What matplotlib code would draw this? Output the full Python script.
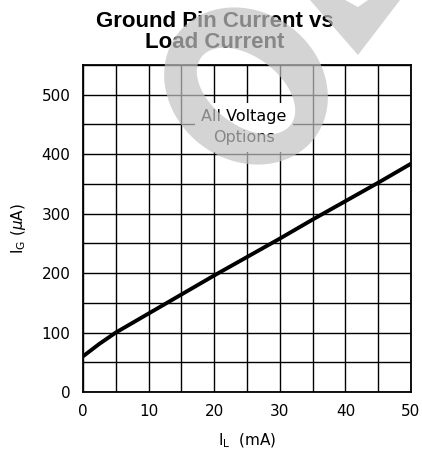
import numpy as np
import matplotlib
matplotlib.use("Agg")
import matplotlib.pyplot as plt
from matplotlib.path import Path
from matplotlib.patches import PathPatch
from matplotlib.transforms import IdentityTransform

# Data
load_ma = [0, 2.5, 5, 10, 15, 20, 25, 30, 35, 40, 45, 50]
ground_ua = [60, 81, 100, 132, 164, 196, 227, 258, 290, 321, 352, 384]

x_ticks = [0, 10, 20, 30, 40, 50]
y_ticks = [0, 100, 200, 300, 400, 500]

W, H = 422, 466
fig = plt.figure(figsize=(W / 100, H / 100), dpi=100)
ax = fig.add_axes([83 / W, 1 - 392 / H, 328 / W, 327 / H])

ax.plot(load_ma, ground_ua, color='black', lw=2.8, solid_capstyle='butt', zorder=3)

ax.set_xlim(0, 50)
ax.set_ylim(0, 550)
ax.set_xticks(np.arange(0, 51, 5))
ax.set_yticks(np.arange(0, 551, 50))
ax.set_xticklabels([str(v) if v in x_ticks else '' for v in range(0, 51, 5)])
ax.set_yticklabels([str(v) if v in y_ticks else '' for v in range(0, 551, 50)])
ax.tick_params(length=0, labelsize=11, pad=9)
ax.grid(True, color='black', lw=1.0)
for s in ax.spines.values():
    s.set_linewidth(1.3)

ax.set_xlabel(r'I$_\mathregular{L}$  (mA)', fontsize=11, labelpad=9)
ax.set_ylabel(r'I$_\mathregular{G}$ ($\mu$A)', fontsize=11, labelpad=10)

ax.text(24.5, 445, 'All Voltage\nOptions', ha='center', va='center', fontsize=11.5,
        linespacing=1.5, zorder=4,
        bbox=dict(boxstyle='square,pad=0.4', fc='white', ec='none'))

fig.text(215 / W, 1 - 32 / H, 'Ground Pin Current vs\nLoad Current', ha='center',
         va='center', fontsize=16, fontweight='bold', family='Liberation Sans',
         linespacing=0.95)

# grey watermark stamp drawn over the chart (pixel coordinates, y from top)
def ellipse(cx, cy, a, b, ang, reverse=False):
    t = np.linspace(0, 2 * np.pi, 200)
    if reverse:
        t = t[::-1]
    c, s = np.cos(np.radians(ang)), np.sin(np.radians(ang))
    x = cx + a * np.cos(t) * c - b * np.sin(t) * s
    y = (H - cy) + a * np.cos(t) * s + b * np.sin(t) * c
    return np.column_stack([x, y])

outer = ellipse(246, 86, 86, 74, -37)
inner = ellipse(246, 91, 56, 34, -37, reverse=True)
verts = np.vstack([outer, inner])
codes = ([Path.MOVETO] + [Path.LINETO] * (len(outer) - 1)
         + [Path.MOVETO] + [Path.LINETO] * (len(inner) - 1))
ring = PathPatch(Path(verts, codes), fc='0.76', ec='none', alpha=0.7,
                 transform=IdentityTransform(), zorder=10)
fig.add_artist(ring)

band_px = [(310, 0), (345, 0), (358, 7), (368, 0), (400, 0), (358, 55)]
band = plt.Polygon([(x, H - y) for x, y in band_px], closed=True, fc='0.76',
                   ec='none', alpha=0.7, transform=IdentityTransform(), zorder=10)
fig.add_artist(band)

fig.savefig('out.png', dpi=100)
